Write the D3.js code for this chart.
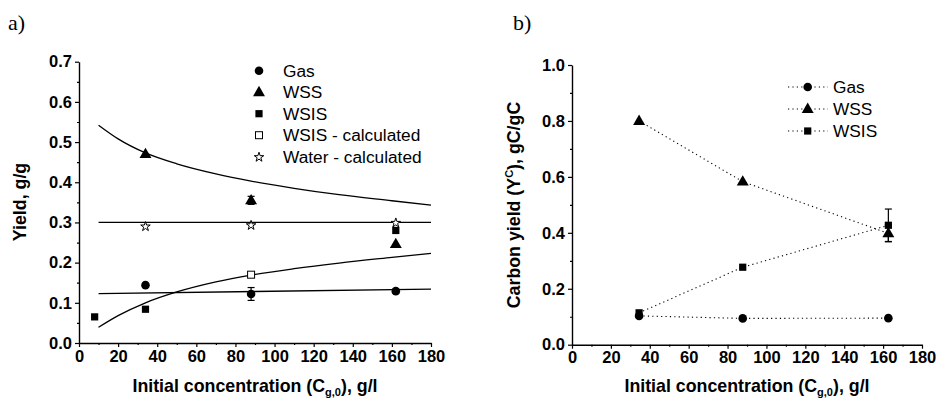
<!DOCTYPE html>
<html><head><meta charset="utf-8">
<script src="https://cdn.jsdelivr.net/npm/d3@7"></script>
<style>
html,body{margin:0;padding:0;background:#fff;}
svg{display:block;font-family:"Liberation Sans",Arial,sans-serif;}
</style></head>
<body><svg id="c" width="940" height="399"></svg>
<script>
// ---------- Panel a data ----------
const xTicksA = [0,20,40,60,80,100,120,140,160,180];
const yTicksA = [0.0,0.1,0.2,0.3,0.4,0.5,0.6,0.7];
const gasA = [{x:34,y:0.144,e:0},{x:88,y:0.122,e:0.016},{x:162,y:0.129,e:0.005}];
const wssA = [{x:34,y:0.470,e:0},{x:88,y:0.355,e:0.010},{x:162,y:0.246,e:0}];
const wsisA = [{x:8,y:0.065},{x:34,y:0.084},{x:162,y:0.280}];
const wsisCalcA = [{x:88,y:0.170}];
const waterCalcA = [{x:34,y:0.291},{x:88,y:0.294},{x:162,y:0.300}];
// fitted curves
const fitWssX = [10,20,34,50,70,88,110,133,160,180];
const fitWssY = [0.542,0.508,0.473,0.446,0.421,0.403,0.385,0.369,0.354,0.343];
const fitWsisX = [10,20,34,50,70,88,110,133,160,180];
const fitWsisY = [0.039,0.068,0.100,0.127,0.152,0.169,0.185,0.199,0.213,0.223];
const fitWaterX = [10,180];
const fitWaterY = [0.300,0.300];
const fitGasX = [10,180];
const fitGasY = [0.123,0.134];
const legendA = ["Gas","WSS","WSIS","WSIS - calculated","Water - calculated"];

// ---------- Panel b data ----------
const xTicksB = [0,20,40,60,80,100,120,140,160,180];
const yTicksB = [0.0,0.2,0.4,0.6,0.8,1.0];
const concB = [34.5,87.8,162.7];
const gasB = [0.103,0.094,0.095];
const wssB = [0.800,0.583,0.398];
const wssErrB = [0,0,0.03];
const wsisB = [0.114,0.277,0.427];
const wsisErrB = [0,0,0.058];
const legendB = ["Gas","WSS","WSIS"];

const svg = d3.select("#c");
const F = '"Liberation Sans",Arial,sans-serif';

function symbolPath(type, size){
  return d3.symbol().type(type).size(size)();
}
function drawMarker(g, kind, x, y){
  if(kind==="circle") g.append("circle").attr("cx",x).attr("cy",y).attr("r",4.3).attr("fill","#000");
  else if(kind==="tri") g.append("path").attr("d",symbolPath(d3.symbolTriangle,62)).attr("transform",`translate(${x},${y+0.5})`).attr("fill","#000");
  else if(kind==="sq") g.append("rect").attr("x",x-3.6).attr("y",y-3.6).attr("width",7.2).attr("height",7.2).attr("fill","#000");
  else if(kind==="osq") g.append("rect").attr("x",x-3.5).attr("y",y-3.5).attr("width",7).attr("height",7).attr("fill","#fff").attr("stroke","#000").attr("stroke-width",1);
  else if(kind==="star") g.append("path").attr("d",symbolPath(d3.symbolStar,28)).attr("transform",`translate(${x},${y+0.5})`).attr("fill","#fff").attr("stroke","#000").attr("stroke-width",1);
}
function errBar(g, x, y1, y2){
  g.append("line").attr("x1",x).attr("x2",x).attr("y1",y1).attr("y2",y2).attr("stroke","#000").attr("stroke-width",1.2);
  [y1,y2].forEach(yy=>g.append("line").attr("x1",x-3.5).attr("x2",x+3.5).attr("y1",yy).attr("y2",yy).attr("stroke","#000").attr("stroke-width",1.2));
}
function axes(g, x, y, xt, yt, xMinor, yMinor, yFmt){
  const xa = g.append("g").attr("transform",`translate(0,${y.range()[0]})`)
    .call(d3.axisBottom(x).tickValues(xt).tickSize(4).tickSizeOuter(0).tickPadding(3).tickFormat(d3.format("d")));
  g.append("g").attr("transform",`translate(0,${y.range()[0]})`)
    .call(d3.axisBottom(x).tickValues(xMinor).tickSize(2).tickSizeOuter(0).tickFormat(""))
    .select(".domain").remove();
  const ya = g.append("g").attr("transform",`translate(${x.range()[0]},0)`)
    .call(d3.axisLeft(y).tickValues(yt).tickSize(4).tickSizeOuter(0).tickPadding(3).tickFormat(yFmt));
  g.append("g").attr("transform",`translate(${x.range()[0]},0)`)
    .call(d3.axisLeft(y).tickValues(yMinor).tickSize(2).tickSizeOuter(0).tickFormat(""))
    .select(".domain").remove();
  [xa,ya].forEach(a=>{
    a.selectAll("text").attr("font-family",F).attr("font-weight","bold").attr("font-size",16.5).attr("fill","#000");
  });
  g.selectAll(".domain").attr("stroke","#000").attr("stroke-width",1.4);
  g.selectAll(".tick line").attr("stroke","#000").attr("stroke-width",1.2);
}
function xTitle(g, cx, y){
  const t = g.append("text").attr("x",cx).attr("y",y).attr("text-anchor","middle")
    .attr("font-family",F).attr("font-weight","bold").attr("font-size",17.8);
  t.append("tspan").text("Initial concentration (C");
  t.append("tspan").attr("font-size",11).attr("dy",4).text("g,0");
  t.append("tspan").attr("dy",-4).text("), g/l");
}

// ===== Panel a =====
const xA = d3.scaleLinear().domain([0,180]).range([79,431]);
const yA = d3.scaleLinear().domain([0,0.7]).range([343,61.7]);
const gA = svg.append("g");
axes(gA, xA, yA, xTicksA, yTicksA, d3.range(10,180,20), d3.range(0.05,0.7,0.1), d3.format(".1f"));

const lineA = d3.line().x(d=>xA(d[0])).y(d=>yA(d[1])).curve(d3.curveMonotoneX);
[[fitWssX,fitWssY],[fitWsisX,fitWsisY],[fitWaterX,fitWaterY],[fitGasX,fitGasY]].forEach(([xs,ys])=>{
  gA.append("path").attr("d",lineA(xs.map((v,i)=>[v,ys[i]]))).attr("fill","none").attr("stroke","#000").attr("stroke-width",1.3);
});
gasA.forEach(d=>{ if(d.e) errBar(gA,xA(d.x),yA(d.y+d.e),yA(d.y-d.e)); drawMarker(gA,"circle",xA(d.x),yA(d.y)); });
wssA.forEach(d=>{ if(d.e) errBar(gA,xA(d.x),yA(d.y+d.e),yA(d.y-d.e)); drawMarker(gA,"tri",xA(d.x),yA(d.y)); });
wsisA.forEach(d=>drawMarker(gA,"sq",xA(d.x),yA(d.y)));
wsisCalcA.forEach(d=>drawMarker(gA,"osq",xA(d.x),yA(d.y)));
waterCalcA.forEach(d=>drawMarker(gA,"star",xA(d.x),yA(d.y)));

const kindsA = ["circle","tri","sq","osq","star"];
legendA.forEach((name,i)=>{
  const yy = 70.7 + i*21.5;
  drawMarker(gA,kindsA[i],259,yy);
  gA.append("text").attr("x",283).attr("y",yy+6).attr("font-family",F).attr("font-size",17.3).text(name);
});
xTitle(gA, 255, 392);
gA.append("text").attr("transform","translate(26,202) rotate(-90)").attr("text-anchor","middle")
  .attr("font-family",F).attr("font-weight","bold").attr("font-size",17.8).text("Yield, g/g");
svg.append("text").attr("x",8).attr("y",30).attr("font-family","'Liberation Serif','Times New Roman',serif").attr("font-size",22).text("a)");

// ===== Panel b =====
const xB = d3.scaleLinear().domain([0,180]).range([572,922]);
const yB = d3.scaleLinear().domain([0,1.0]).range([344.7,65]);
const gB = svg.append("g");
axes(gB, xB, yB, xTicksB, yTicksB, d3.range(10,180,20), d3.range(0.1,1.0,0.2), d3.format(".1f"));

const lineB = d3.line().x(d=>xB(d[0])).y(d=>yB(d[1]));
[gasB,wssB,wsisB].forEach(s=>{
  gB.append("path").attr("d",lineB(concB.map((c,i)=>[c,s[i]]))).attr("fill","none")
    .attr("stroke","#000").attr("stroke-width",1.1).attr("stroke-dasharray","1.2,3.2");
});
concB.forEach((c,i)=>{
  if(wsisErrB[i]) errBar(gB,xB(c),yB(wsisB[i]+wsisErrB[i]),yB(wsisB[i]-wsisErrB[i]));
  if(wssErrB[i]) errBar(gB,xB(c),yB(wssB[i]+wssErrB[i]),yB(wssB[i]-wssErrB[i]));
});
concB.forEach((c,i)=>{
  drawMarker(gB,"circle",xB(c),yB(gasB[i]));
  drawMarker(gB,"tri",xB(c),yB(wssB[i]));
  drawMarker(gB,"sq",xB(c),yB(wsisB[i]));
});
const kindsB = ["circle","tri","sq"];
legendB.forEach((name,i)=>{
  const yy = 87 + i*22;
  gB.append("line").attr("x1",788).attr("x2",828).attr("y1",yy).attr("y2",yy)
    .attr("stroke","#000").attr("stroke-width",1.1).attr("stroke-dasharray","1.2,3.2");
  drawMarker(gB,kindsB[i],807.7,yy);
  gB.append("text").attr("x",833).attr("y",yy+6).attr("font-family",F).attr("font-size",17.3).text(name);
});
xTitle(gB, 747, 392);
const yl = gB.append("text").attr("transform","translate(520,205) rotate(-90)").attr("text-anchor","middle")
  .attr("font-family",F).attr("font-weight","bold").attr("font-size",17.8);
yl.append("tspan").text("Carbon yield (Y");
yl.append("tspan").attr("font-size",11).attr("dy",-7).text("C");
yl.append("tspan").attr("dy",7).text("), gC/gC");
svg.append("text").attr("x",513).attr("y",30).attr("font-family","'Liberation Serif','Times New Roman',serif").attr("font-size",22).text("b)");
</script></body></html>
